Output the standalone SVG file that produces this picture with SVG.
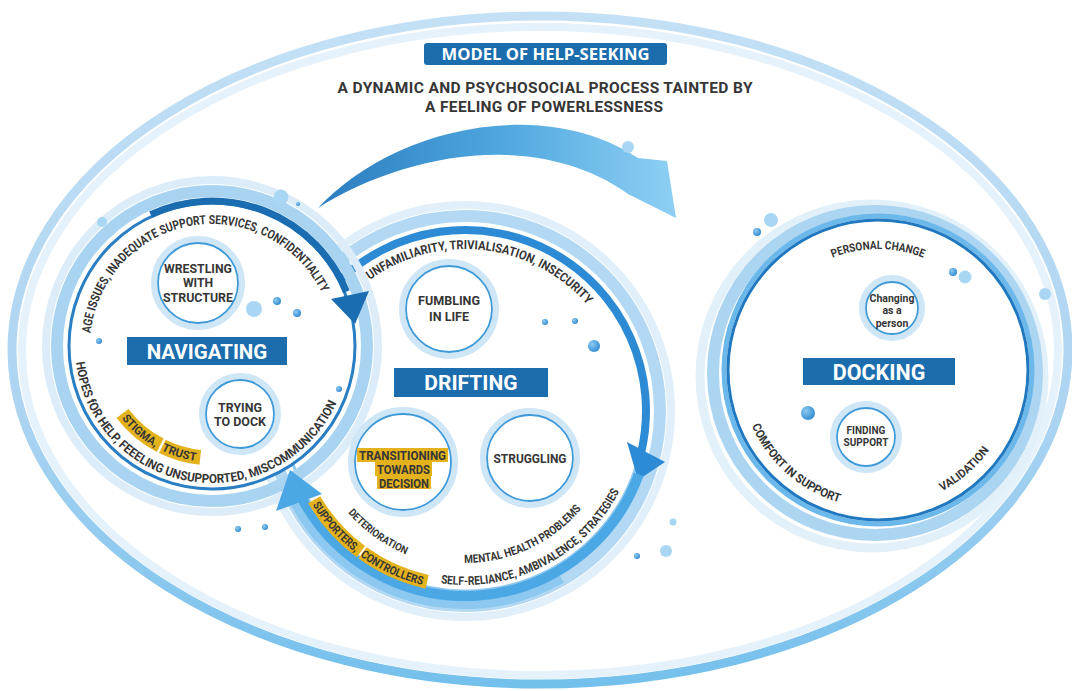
<svg xmlns="http://www.w3.org/2000/svg" width="1072" height="691" viewBox="0 0 1072 691">
<defs>
<style>
.t{font-family:Roboto,"Liberation Sans",sans-serif;font-weight:700;fill:#363636}
.w{font-family:Roboto,"Liberation Sans",sans-serif;font-weight:700;fill:#ffffff}
.box{fill:#1b6dae}
.yel{fill:none;stroke:#e3b21c}
.hl{fill:#e3b21c}
.sm-halo{fill:none;stroke:#cfe6f7;stroke-width:6}
.sm{fill:#ffffff;stroke:#3e99d9;stroke-width:1.8}
.dot{fill:url(#dotG)}
.dotl{fill:#a9d6f3}
</style>
<linearGradient id="arrG" x1="0" y1="0" x2="1" y2="0">
<stop offset="0" stop-color="#2a7cbf"/>
<stop offset="0.5" stop-color="#4ea6de"/>
<stop offset="1" stop-color="#8ed0f4"/>
</linearGradient>
<radialGradient id="dotG" cx="0.35" cy="0.35" r="0.7">
<stop offset="0" stop-color="#8fcaf0"/>
<stop offset="1" stop-color="#2f8bd3"/>
</radialGradient>
<linearGradient id="ellG" x1="0" y1="0" x2="0" y2="1">
<stop offset="0" stop-color="#c3e0f5"/>
<stop offset="0.6" stop-color="#acd4f1"/>
<stop offset="1" stop-color="#74c0ec"/>
</linearGradient>
<path id="pNavTop" d="M90.67,333.25 A122,122 0 0 1 323.45,296.38"/>
<path id="pNavBot" d="M75.75,360.32 A137,137 0 0 0 338.11,399.53"/>
<path id="pStig" d="M120.49,417.06 A116,116 0 0 0 199.87,461.37"/>
<path id="pDrTop" d="M369.78,279.94 A162,162 0 0 1 589.10,306.87"/>
<path id="pDet" d="M348.02,512.69 A155,155 0 0 0 409.45,555.70"/>
<path id="pSup" d="M311.57,503.19 A179,179 0 0 0 427.78,586.09"/>
<path id="pSelf" d="M437.78,582.86 A174,174 0 0 0 621.39,487.28"/>
<path id="pMent" d="M462.35,562.98 A152,152 0 0 0 583.13,506.66"/>
<path id="pPers" d="M830.72,258.62 A121,121 0 0 1 925.28,258.62"/>
<path id="pComf" d="M750.97,423.92 A138,138 0 0 0 844.61,503.90"/>
<path id="pVal" d="M940.20,492.07 A137,137 0 0 0 991.58,446.61"/>
</defs>
<rect width="1072" height="691" fill="#ffffff"/>

<g id="frame">
<ellipse cx="540" cy="350" rx="528" ry="334" fill="none" stroke="url(#ellG)" stroke-width="9"/>
<ellipse cx="540" cy="351" rx="518" ry="324" fill="none" stroke="#e6f2fb" stroke-width="8"/>
</g>

<g id="title">
<rect x="424" y="43" width="243" height="22" rx="3" class="box"/>
<text x="545.5" y="60" text-anchor="middle" class="w" style="font-family:'Open Sans',Roboto,sans-serif" font-size="16.5" textLength="208" lengthAdjust="spacingAndGlyphs">MODEL OF HELP-SEEKING</text>
<text x="545" y="93" text-anchor="middle" class="t" font-size="15.5" textLength="415">A DYNAMIC AND PSYCHOSOCIAL PROCESS TAINTED BY</text>
<text x="544" y="112" text-anchor="middle" class="t" font-size="15.5" textLength="238">A FEELING OF POWERLESSNESS</text>
</g>

<g id="connectors">
<path id="bigArrow" d="M318,208 C360,163 430,128 510,125 C570,123 612,141 638,158 L667,161 L676,218 L628,194 C600,174 560,157 505,155 C440,153 370,175 318,208 Z" fill="url(#arrG)"/>
</g>

<g id="docking">
<circle cx="872" cy="376" r="172" fill="none" stroke="#e2f0fa" stroke-width="9"/>
<circle cx="875" cy="373" r="162" fill="none" stroke="#acd5f2" stroke-width="12"/>
<circle cx="878" cy="370" r="154" fill="none" stroke="#6db8ea" stroke-width="5"/>
<circle cx="878" cy="370" r="150" fill="#ffffff" stroke="#1f78c0" stroke-width="3"/>
<rect x="803" y="358" width="152" height="27" class="box"/>
<text x="879" y="379.5" text-anchor="middle" class="w" font-size="21.5">DOCKING</text>
<text class="t" font-size="11.5"><textPath href="#pPers" startOffset="2" textLength="93" lengthAdjust="spacingAndGlyphs">PERSONAL CHANGE</textPath></text>
<text class="t" font-size="12"><textPath href="#pComf" startOffset="2" textLength="120" lengthAdjust="spacingAndGlyphs">COMFORT IN SUPPORT</textPath></text>
<text class="t" font-size="11.5"><textPath href="#pVal" startOffset="2" textLength="63" lengthAdjust="spacingAndGlyphs">VALIDATION</textPath></text>
<g id="changing">
<circle cx="892" cy="308" r="30" class="sm-halo"/>
<circle cx="892" cy="308" r="26" class="sm"/>
<text x="892" y="301.5" text-anchor="middle" class="t" font-size="10.5">Changing</text>
<text x="892" y="314" text-anchor="middle" class="t" font-size="10.5">as a</text>
<text x="892" y="326.5" text-anchor="middle" class="t" font-size="10.5">person</text>
</g>
<g id="finding">
<circle cx="866" cy="437" r="33" class="sm-halo"/>
<circle cx="866" cy="437" r="29" class="sm"/>
<text x="866" y="433.5" text-anchor="middle" class="t" font-size="10">FINDING</text>
<text x="866" y="445.5" text-anchor="middle" class="t" font-size="10">SUPPORT</text>
</g>
</g>

<g id="drifting-ring">
<circle cx="465" cy="411" r="206" fill="none" stroke="#e0eff9" stroke-width="8"/>
<circle cx="465" cy="411" r="195" fill="none" stroke="#b2d8f3" stroke-width="12"/>
<circle cx="465" cy="411" r="180" fill="#ffffff" stroke="#8fc8ee" stroke-width="3"/>
<path d="M337.01,283.01 A181,181 0 0 1 641.36,451.72" fill="none" stroke="#2d8bd5" stroke-width="8"/>
<polygon points="627,442 665,462 638,480" fill="#2d8bd5"/>
</g>

<g id="navigating">
<circle cx="212" cy="346" r="166" fill="none" stroke="#dcedf9" stroke-width="8"/>
<circle cx="212" cy="346" r="155" fill="none" stroke="#a9d4f1" stroke-width="12"/>
<circle cx="212" cy="346" r="143" fill="#ffffff" stroke="#2a7fc4" stroke-width="3"/>
<path d="M150.72,214.59 A145,145 0 0 1 346.44,291.68" fill="none" stroke="#1b6db1" stroke-width="7"/>
<polygon points="331,299 369,291 355,324" fill="#1b6db1"/>
<rect x="127" y="337" width="160" height="28" class="box"/>
<text x="207" y="358.5" text-anchor="middle" class="w" font-size="20.5">NAVIGATING</text>
<text class="t" font-size="12.5"><textPath href="#pNavTop" textLength="315" lengthAdjust="spacingAndGlyphs">AGE ISSUES, INADEQUATE SUPPORT SERVICES, CONFIDENTIALITY</textPath></text>
<text class="t" font-size="12.5"><textPath href="#pNavBot" startOffset="2" textLength="355" lengthAdjust="spacingAndGlyphs">HOPES fOR HELP, FEEELING UNSUPPORTED, MISCOMMUNICATION</textPath></text>
<path d="M122.52,413.41 A112,112 0 0 0 160.24,445.24" class="yel" stroke-width="15"/>
<path d="M162.35,446.38 A112,112 0 0 0 200.29,457.39" class="yel" stroke-width="15"/>
<text class="t" font-size="11.5"><textPath href="#pStig" startOffset="2" textLength="44" lengthAdjust="spacingAndGlyphs">STIGMA,</textPath></text>
<text class="t" font-size="11.5"><textPath href="#pStig" startOffset="53" textLength="36" lengthAdjust="spacingAndGlyphs">TRUST</textPath></text>
<g id="wrestling">
<circle cx="198" cy="283" r="44" class="sm-halo"/>
<circle cx="198" cy="283" r="40" class="sm"/>
<text x="198" y="272.5" text-anchor="middle" class="t" font-size="12.2" textLength="68" lengthAdjust="spacingAndGlyphs">WRESTLING</text>
<text x="198" y="287" text-anchor="middle" class="t" font-size="12.2">WITH</text>
<text x="198" y="301.5" text-anchor="middle" class="t" font-size="12.2" textLength="70" lengthAdjust="spacingAndGlyphs">STRUCTURE</text>
</g>
<g id="trying">
<circle cx="240" cy="414" r="38" class="sm-halo"/>
<circle cx="240" cy="414" r="34" class="sm"/>
<text x="240" y="411.5" text-anchor="middle" class="t" font-size="12.2" textLength="44" lengthAdjust="spacingAndGlyphs">TRYING</text>
<text x="240" y="426" text-anchor="middle" class="t" font-size="12.2" textLength="52" lengthAdjust="spacingAndGlyphs">TO DOCK</text>
</g>
</g>

<g id="drifting">
<circle cx="465" cy="411" r="192" fill="none" stroke="#8cc8ef" stroke-width="12" stroke-dasharray="0 201 310 800"/>
<path d="M638.84,474.27 A185,185 0 0 1 300.16,494.99" fill="none" stroke="#4ba8e5" stroke-width="10"/>
<polygon points="322,494 276,511 290,470" fill="#4ba8e5"/>
<rect x="394" y="368" width="154" height="29" class="box"/>
<text x="471" y="390" text-anchor="middle" class="w" font-size="21">DRIFTING</text>
<text class="t" font-size="12.5"><textPath href="#pDrTop" textLength="240" lengthAdjust="spacingAndGlyphs">UNFAMILIARITY, TRIVIALISATION, INSECURITY</textPath></text>
<text class="t" font-size="10.5"><textPath href="#pDet" textLength="72" lengthAdjust="spacingAndGlyphs">DETERIORATION</textPath></text>
<path d="M314.21,499.82 A175,175 0 0 0 360.91,551.68" class="yel" stroke-width="14"/>
<path d="M362.63,552.94 A175,175 0 0 0 427.12,581.85" class="yel" stroke-width="14"/>
<text class="t" font-size="11.5"><textPath href="#pSup" startOffset="2" textLength="64" lengthAdjust="spacingAndGlyphs">SUPPORTERS,</textPath></text>
<text class="t" font-size="11.5"><textPath href="#pSup" startOffset="72" textLength="69" lengthAdjust="spacingAndGlyphs">CONTROLLERS</textPath></text>
<text class="t" font-size="11.5"><textPath href="#pMent" startOffset="2" textLength="133" lengthAdjust="spacingAndGlyphs">MENTAL HEALTH PROBLEMS</textPath></text>
<text class="t" font-size="12"><textPath href="#pSelf" startOffset="3" textLength="214" lengthAdjust="spacingAndGlyphs">SELF-RELIANCE, AMBIVALENCE, STRATEGIES</textPath></text>
<g id="fumbling">
<circle cx="449" cy="309" r="47" class="sm-halo"/>
<circle cx="449" cy="309" r="43" class="sm"/>
<text x="449" y="305" text-anchor="middle" class="t" font-size="12.5" textLength="62" lengthAdjust="spacingAndGlyphs">FUMBLING</text>
<text x="449" y="320.5" text-anchor="middle" class="t" font-size="12.5">IN LIFE</text>
</g>
<g id="transitioning">
<circle cx="403" cy="462" r="52" class="sm-halo"/>
<circle cx="403" cy="462" r="48" class="sm"/>
<rect x="357" y="448" width="91" height="14" class="hl"/>
<rect x="375" y="462" width="57" height="14" class="hl"/>
<rect x="377" y="476" width="54" height="13" class="hl"/>
<text x="402.5" y="459.5" text-anchor="middle" class="t" font-size="12" textLength="87" lengthAdjust="spacingAndGlyphs">TRANSITIONING</text>
<text x="403.5" y="473.5" text-anchor="middle" class="t" font-size="12" textLength="53" lengthAdjust="spacingAndGlyphs">TOWARDS</text>
<text x="404" y="487.5" text-anchor="middle" class="t" font-size="12" textLength="50" lengthAdjust="spacingAndGlyphs">DECISION</text>
</g>
<g id="struggling">
<circle cx="530" cy="458" r="47" class="sm-halo"/>
<circle cx="530" cy="458" r="43" class="sm"/>
<text x="530" y="463" text-anchor="middle" class="t" font-size="13" textLength="73" lengthAdjust="spacingAndGlyphs">STRUGGLING</text>
</g>
</g>

<g id="bubbles">
<circle cx="281" cy="197" r="7.5" class="dotl"/>
<circle cx="298" cy="204" r="2" class="dot"/>
<circle cx="102" cy="222" r="5" class="dotl"/>
<circle cx="628" cy="147" r="6" class="dotl"/>
<circle cx="771" cy="220" r="7" class="dotl"/>
<circle cx="757" cy="232" r="4" class="dot"/>
<circle cx="1045" cy="294" r="6" class="dotl"/>
<circle cx="254" cy="309" r="8" class="dotl"/>
<circle cx="277" cy="301" r="4" class="dot"/>
<circle cx="297" cy="313" r="4" class="dot"/>
<circle cx="99" cy="341" r="3" class="dot"/>
<circle cx="339" cy="389" r="3" class="dot"/>
<circle cx="545" cy="322" r="3" class="dot"/>
<circle cx="575" cy="321" r="3" class="dot"/>
<circle cx="594" cy="346" r="6" class="dot"/>
<circle cx="953" cy="272" r="4" class="dot"/>
<circle cx="965" cy="277" r="6.5" class="dotl"/>
<circle cx="808" cy="413" r="7" class="dot"/>
<circle cx="238" cy="529" r="3" class="dot"/>
<circle cx="265" cy="527" r="3" class="dot"/>
<circle cx="673" cy="522" r="3.5" class="dotl"/>
<circle cx="637" cy="556" r="3" class="dot"/>
<circle cx="666" cy="551" r="6" class="dotl"/>
</g>
</svg>
